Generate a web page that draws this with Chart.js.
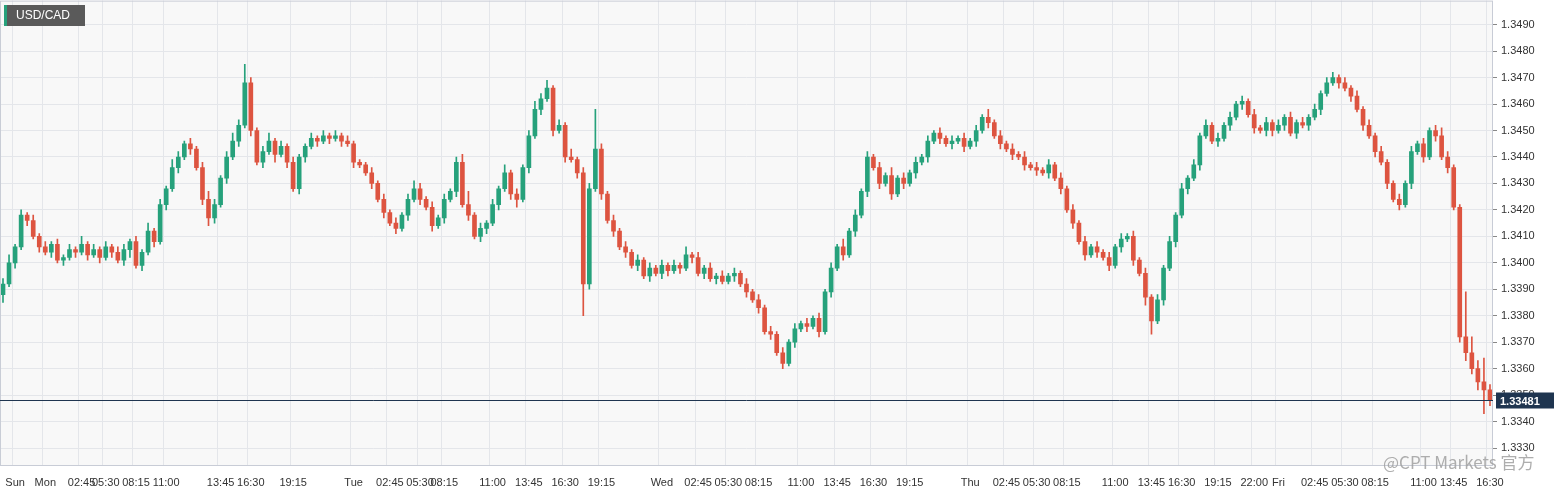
<!DOCTYPE html>
<html><head><meta charset="utf-8">
<script src="https://cdn.jsdelivr.net/npm/chart.js@4"></script>
<style>html,body{margin:0;padding:0;background:#fff;overflow:hidden}#w{position:absolute;left:-7px;top:-10px;width:1572px;height:506px}</style>
</head><body><div id="w"><canvas id="c"></canvas></div>
<script>
const firstOpen = 88;
const closePips = [92,100,106,118,116,110,106,104,107,101,102,105,104,107,103,105,102,106,104,101,105,108,99,104,112,108,122,128,136,140,145,143,136,124,117,122,132,140,146,152,168,150,138,142,146,141,144,138,128,140,144,147,146,148,147,148,146,145,138,137,134,130,124,119,115,113,118,124,128,124,121,114,117,124,127,138,122,118,110,113,115,122,128,134,126,124,136,148,158,162,166,150,152,140,139,134,92,128,143,126,116,112,106,104,99,101,95,98,96,99,97,99,98,103,102,96,98,94,95,93,95,96,92,89,86,83,74,73,66,62,70,75,77,76,79,74,89,98,106,103,112,118,127,140,136,130,133,126,132,130,134,138,140,146,149,147,145,146,147,144,146,150,155,153,148,145,143,141,140,137,136,135,134,137,132,128,120,115,108,103,106,104,102,99,106,109,110,101,96,87,78,86,98,108,118,128,132,137,148,152,146,147,152,155,160,161,156,151,150,153,150,152,155,149,153,152,155,158,164,168,170,168,166,163,158,152,148,142,138,130,124,122,130,142,145,140,150,148,140,136,121,72,66,60,55,52,48];
const upperWick = "2312121212"+"1213121212"+"2121312132"+"1212321232"+"7212312121"+"1212121211"+"1212121232"+"1212123512"+"1213121232"+"31213122f2"+"1212121212"+"1213121212"+"1212121212"+"1212121213"+"1212121312"+"1212121212"+"1213121212"+"1212121212"+"1212121212"+"1212121212"+"1212121212"+"1212121212"+"2121212121"+"1212121232"+"11h6392";
const lowerWick = "3121212121"+"2121212121"+"2312121212"+"1212321212"+"1212131212"+"2121212121"+"1212121212"+"1212121212"+"2121231212"+"121212c212"+"1212121212"+"2121212121"+"1212121212"+"1212121212"+"1212121212"+"1212121212"+"1212121212"+"1212121212"+"1212121213"+"5121212121"+"1212121212"+"2121212121"+"1212121212"+"1212121212"+"1232392";
const tickIdx = [2,7,13,17,22,27,36,41,48,58,64,69,73,81,87,93,99,109,115,120,125,132,138,144,150,160,166,171,176,184,190,195,201,207,211,217,222,227,235,240,246];
const tickText = ["Sun","Mon","02:45","05:30","08:15","11:00","13:45","16:30","19:15","Tue","02:45","05:30","08:15","11:00","13:45","16:30","19:15","Wed","02:45","05:30","08:15","11:00","13:45","16:30","19:15","Thu","02:45","05:30","08:15","11:00","13:45","16:30","19:15","22:00","Fri","02:45","05:30","08:15","11:00","13:45","16:30"];
const lastPrice = 1.33481;
const symbol = "USD/CAD";
const watermark = "@CPT Markets 官方";

const P = p => 1.33 + p/10000;
const n = closePips.length;
const labels = new Array(n).fill("");
tickIdx.forEach((k,j)=>labels[k]=tickText[j]);
const bodies=[], wicks=[], cols=[];
for(let i=0;i<n;i++){
  const o = i===0?firstOpen:closePips[i-1], c = closePips[i];
  const uw = parseInt(upperWick[i]||'1',36), lw = parseInt(lowerWick[i]||'1',36);
  bodies.push([P(o), P(c===o? c+0.3 : c)]);
  wicks.push([P(Math.min(o,c)-lw), P(Math.max(o,c)+uw)]);
  cols.push(c>=o?'#26a17b':'#dd5440');
}
const UP='#26a17b';
const OX=7, OY=10;
const deco = {
  id:'deco',
  beforeDraw(ch){const {ctx,chartArea:a}=ch;ctx.save();ctx.fillStyle='#f8f8f8';ctx.fillRect(a.left,a.top,a.right-a.left,a.bottom-a.top);ctx.restore();},
  afterDraw(ch){
    const {ctx,chartArea:a,scales:{y}}=ch;ctx.save();
    ctx.strokeStyle='#c8ccd6';ctx.lineWidth=1;ctx.strokeRect(a.left+0.5,a.top+0.5,a.right-a.left-1,a.bottom-a.top-1);
    const yy=Math.round(y.getPixelForValue(lastPrice))+0.5;
    ctx.strokeStyle='#1f3550';ctx.beginPath();ctx.moveTo(a.left,yy);ctx.lineTo(a.right,yy);ctx.stroke();
    ctx.fillStyle='#1f3550';ctx.fillRect(a.right+3,yy-8,58,16);
    ctx.fillStyle='#fff';ctx.font='bold 11px "Liberation Sans",Arial';ctx.textBaseline='middle';ctx.fillText(lastPrice.toFixed(5),a.right+7,yy+1);
    ctx.fillStyle='#5a5a5a';ctx.fillRect(4+OX,5+OY,81,21);ctx.fillStyle=UP;ctx.fillRect(4+OX,5+OY,3,21);
    ctx.fillStyle='#fff';ctx.font='12px "Liberation Sans",Arial';ctx.fillText(symbol,16+OX,16+OY);
    ctx.fillStyle='rgba(160,160,160,0.85)';ctx.font='17px "Noto Sans CJK SC","Liberation Sans"';ctx.fillText(watermark,1383+OX,463+OY);
    ctx.restore();
  }
};
new Chart(document.getElementById('c'),{
  type:'bar',
  data:{labels,datasets:[
    {data:wicks,backgroundColor:cols,barThickness:1,grouped:false,order:2},
    {data:bodies,backgroundColor:cols,barThickness:4,grouped:false,order:1}
  ]},
  options:{responsive:true,maintainAspectRatio:false,animation:false,
    plugins:{legend:{display:false},tooltip:{enabled:false}},
    scales:{
      x:{offset:true,grid:{color:c=>labels[c.index]?'#e4e6ea':'rgba(0,0,0,0)',drawTicks:false},border:{display:false},
        ticks:{autoSkip:false,maxRotation:0,color:'#333',font:{size:11,family:'"Liberation Sans",Arial'},padding:10,callback:(v,i)=>labels[i]},
        afterFit:s=>{s.height=30}},
      y:{position:'right',min:1.33232,max:1.34991,grid:{color:'#e4e6ea',tickLength:4,tickColor:'#888'},border:{display:false},
        afterBuildTicks:s=>{const t=[];for(let k=0;k<=16;k++)t.push({value:1.333+k*0.001});s.ticks=t;},
        ticks:{color:'#333',font:{size:11,family:'"Liberation Sans",Arial'},padding:4,callback:v=>(+v).toFixed(4)},
        afterFit:s=>{s.width=72}}
    }},
  plugins:[deco]
});
</script></body></html>
